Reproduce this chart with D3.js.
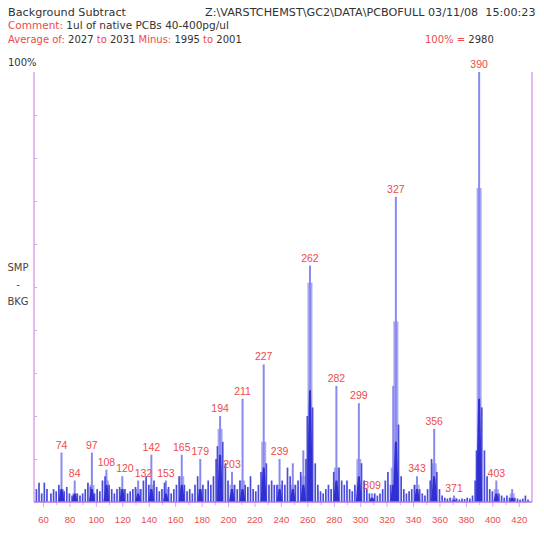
<!DOCTYPE html>
<html>
<head>
<meta charset="utf-8">
<script src="https://cdn.jsdelivr.net/npm/d3@7"></script>
<style>
    body { margin: 0; background: #fff; }
    text { font-family: "DejaVu Sans", sans-serif; }
</style>
</head>
<body>
<div id="chart"></div>
<script>
// Picos principales (m/z, % del pico base en la cima, % donde se ensancha, % del nucleo oscuro)
const peakMz   = [74, 84, 97, 108, 120, 132, 142, 153, 165, 179, 194, 203, 211, 227, 239, 249, 257, 262, 282, 299, 309, 325, 327, 343, 356, 371, 390, 403, 415];
const peakTop  = [11.5, 5, 11.5, 7.5, 6, 5, 11, 5, 11, 10, 20, 7, 24, 32, 10, 9, 12, 55, 27, 23, 2, 27, 71, 6, 17, 1.5, 100, 5, 3];
const peakWide = [3, 2, 4, 5, 3, 3, 4, 3, 6, 3, 17, 4, 5, 14, 4, 4, 6, 51, 8, 10, 1, 8, 42, 4, 9, 1, 73, 3, 2];
const peakCore = [3, 2, 3, 4, 3, 2, 3, 2, 4, 3, 11, 3, 3, 8, 3, 3, 4, 26, 5, 6, 1, 4, 14, 3, 6, 0.5, 24, 2, 1];

// Picos etiquetados
const labelMz = [74, 84, 97, 108, 120, 132, 142, 153, 165, 179, 194, 203, 211, 227, 239, 262, 282, 299, 309, 327, 343, 356, 371, 390, 403];

// Ruido de fondo e isotopos pequeños (m/z, %)
const noiseMz = [55, 57, 59, 61, 63, 66, 68, 70, 72, 76, 78, 80, 82, 86, 88, 90, 92, 94, 96, 99, 101, 103, 105, 107, 110, 112, 114, 116, 118,
    122, 124, 126, 128, 130, 134, 136, 138, 140, 144, 146, 148, 150, 152, 155, 157, 159, 161, 163, 167, 169, 171, 173, 175, 177,
    181, 183, 185, 187, 189, 191, 192, 196, 198, 200, 205, 207, 209, 213, 215, 217, 219, 221, 223, 225, 229, 231, 233, 235, 237,
    241, 243, 245, 247, 251, 253, 255, 259, 260, 264, 266, 268, 270, 272, 274, 276, 278, 280, 284, 286, 288, 290, 292, 294, 296,
    301, 303, 305, 307, 311, 313, 315, 317, 319, 321, 323, 329, 331, 333, 335, 337, 339, 341, 345, 347, 349, 351, 353, 354, 358,
    360, 362, 364, 366, 368, 373, 375, 377, 379, 381, 383, 385, 387, 388, 392, 394, 396, 398, 400, 405, 407, 409, 411, 413, 417,
    419, 421, 423, 425, 427];
const noiseInt = [3, 4.5, 2, 4.5, 3, 2, 3, 2.5, 4, 2.5, 3.5, 2, 1.5, 2, 1.5, 2, 3, 4.5, 3.5, 2, 3, 2.5, 5, 6, 4, 3, 2, 3, 3.5,
    3, 2, 2.5, 3, 3.5, 3, 5, 6, 4, 5, 3.5, 2.5, 3, 4.5, 3.5, 2, 3, 4, 6, 4, 2.5, 3, 2, 4, 6,
    4, 3, 5, 4, 6, 10, 13, 14, 9, 5, 4, 3, 5, 4, 3.5, 6, 3, 2.5, 4, 7, 9, 4, 5, 4, 4,
    5, 4, 8, 6, 4, 5, 7, 10, 20, 22, 9, 4, 2.5, 2, 3, 4, 3, 7, 8, 5, 4, 5, 3, 2.5, 4,
    9, 5, 3, 2, 2, 1.5, 2, 3, 5, 7, 4, 18, 6, 3, 2, 2.5, 3, 4, 3, 2, 1.5, 3, 5, 10, 7,
    3, 1.5, 1, 0.8, 1, 0.8, 0.6, 0.8, 0.7, 1, 0.8, 1.5, 5, 12, 22, 12, 6, 3, 2.5, 2, 1.5, 1, 1.5, 1, 1,
    0.8, 0.6, 0.8, 1.5, 0.6];

const xTicks = [60, 80, 100, 120, 140, 160, 180, 200, 220, 240, 260, 280, 300, 320, 340, 360, 380, 400, 420];
const xMinorTicks = [70, 90, 110, 130, 150, 170, 190, 210, 230, 250, 270, 290, 310, 330, 350, 370, 390, 410];
const yTicks = [10, 20, 30, 40, 50, 60, 70, 80, 90];

const RED = "#ee4a4a";
const AXIS = "#dca2ee";

const width = 544;
const height = 534;

const svg = d3.select("#chart").append("svg")
    .attr("width", width)
    .attr("height", height)
    .style("background", "#fff");

const x = d3.scaleLinear().domain([53.2, 430]).range([34, 532]);
const y = d3.scaleLinear().domain([0, 100]).range([502, 72]);

// Cabecera
function headerLine(yPos, parts, xPos, size) {
    const t = svg.append("text")
        .attr("x", xPos)
        .attr("y", yPos)
        .attr("font-size", size || 10.5)
        .attr("xml:space", "preserve");
    parts.forEach(p => {
        t.append("tspan").attr("fill", p[1]).text(p[0]);
    });
}

headerLine(16, [["Background Subtract", "#333"]], 8, 11.2);
headerLine(16, [["Z:\\VARSTCHEMST\\GC2\\DATA\\PCBOFULL 03/11/08  15:00:23", "#333"]], 205, 11.2);
headerLine(29, [["Comment:", RED], [" 1ul of native PCBs 40-400pg/ul", "#333"]]
, 8);
headerLine(43, [["Average of:", RED], [" 2027 ", "#333"], ["to", RED], [" 2031 ", "#333"],
    ["Minus:", RED], [" 1995 ", "#333"], ["to", RED], [" 2001", "#333"]], 8, 10);
headerLine(43, [["100%", RED], [" = ", RED], ["2980", "#333"]], 425, 10);
headerLine(66, [["100%", "#333"]], 8, 10);

svg.append("g").selectAll("text")
    .data(["SMP", "-", "BKG"])
    .enter().append("text")
    .attr("x", 18)
    .attr("y", (d, i) => 271 + i * 17)
    .attr("text-anchor", "middle")
    .attr("font-size", 10)
    .attr("fill", "#444")
    .text(d => d);

// Espectro
const peaks = peakMz.map((mz, i) => ({ mz: mz, top: peakTop[i], wide: peakWide[i], core: peakCore[i] }));
const noise = noiseMz.map((mz, i) => ({ mz: mz, v: noiseInt[i] }));

const spec = svg.append("g");

spec.selectAll("rect.wide")
    .data(peaks)
    .enter().append("rect")
    .attr("class", "wide")
    .attr("x", d => x(d.mz) - 2.5)
    .attr("width", 5)
    .attr("y", d => y(d.wide))
    .attr("height", d => y(0) - y(d.wide))
    .attr("fill", "#a9a9f3");

spec.selectAll("line.stick")
    .data(peaks)
    .enter().append("line")
    .attr("class", "stick")
    .attr("x1", d => x(d.mz))
    .attr("x2", d => x(d.mz))
    .attr("y1", y(0))
    .attr("y2", d => y(d.top))
    .attr("stroke", "#8a8aee")
    .attr("stroke-width", 2);

spec.selectAll("line.noise")
    .data(noise)
    .enter().append("line")
    .attr("class", "noise")
    .attr("x1", d => x(d.mz))
    .attr("x2", d => x(d.mz))
    .attr("y1", y(0))
    .attr("y2", d => y(d.v))
    .attr("stroke", "#4c4cda")
    .attr("stroke-width", 1.7);

spec.selectAll("path.core")
    .data(peaks)
    .enter().append("path")
    .attr("class", "core")
    .attr("d", d => {
        const cx = x(d.mz);
        return `M${cx - 3},${y(0)}L${cx - 1},${y(d.core)}L${cx + 1},${y(d.core)}L${cx + 3},${y(0)}Z`;
    })
    .attr("fill", "#3030d2");

// Etiquetas de picos (se empujan a la derecha si se tocan)
const labels = svg.append("g").selectAll("text")
    .data(peaks.filter(p => labelMz.includes(p.mz)))
    .enter().append("text")
    .attr("x", d => x(d.mz))
    .attr("y", d => y(d.top) - 4)
    .attr("text-anchor", "middle")
    .attr("font-size", 10.5)
    .attr("fill", RED)
    .style("font-family", "'Liberation Sans', sans-serif")
    .text(d => d.mz);

let prev = null;
labels.each(function(d) {
    const w = this.getComputedTextLength();
    const box = { left: x(d.mz) - w / 2, right: x(d.mz) + w / 2, y: y(d.top) - 4 };
    if (prev && Math.abs(prev.y - box.y) < 11 && box.left < prev.right + 1) {
        const shift = prev.right + 1 - box.left;
        box.left += shift;
        box.right += shift;
        d3.select(this).attr("x", (box.left + box.right) / 2);
    }
    prev = box;
});

// Ejes
svg.append("line")
    .attr("x1", x.range()[0]).attr("x2", x.range()[0])
    .attr("y1", y(100)).attr("y2", y(0))
    .attr("stroke", AXIS).attr("stroke-width", 1.5);

svg.append("line")
    .attr("x1", x.range()[1]).attr("x2", x.range()[1])
    .attr("y1", y(100)).attr("y2", y(0))
    .attr("stroke", AXIS).attr("stroke-width", 1.5);

const leftTicks = svg.append("g")
    .attr("transform", `translate(${x.range()[0]},0)`)
    .call(d3.axisRight(y).tickValues(yTicks).tickSize(3).tickFormat(""));
leftTicks.select(".domain").remove();
leftTicks.selectAll("line").attr("stroke", AXIS);

const minor = svg.append("g")
    .attr("transform", `translate(0,${y(0)})`)
    .call(d3.axisBottom(x).tickValues(xMinorTicks).tickSize(3).tickFormat(""));
minor.select(".domain").remove();
minor.selectAll("line").attr("stroke", AXIS);

const xAxis = svg.append("g")
    .attr("transform", `translate(0,${y(0)})`)
    .call(d3.axisBottom(x).tickValues(xTicks).tickSize(5).tickPadding(9));
xAxis.select(".domain").remove();
xAxis.selectAll("line").attr("stroke", AXIS);
xAxis.selectAll("text")
    .attr("fill", RED)
    .attr("font-size", 9.5)
    .style("font-family", "'Liberation Sans', sans-serif");

svg.append("line")
    .attr("x1", x.range()[0]).attr("x2", x.range()[1])
    .attr("y1", y(0)).attr("y2", y(0))
    .attr("stroke", "#b86cee").attr("stroke-width", 1.5);
</script>
</body>
</html>
